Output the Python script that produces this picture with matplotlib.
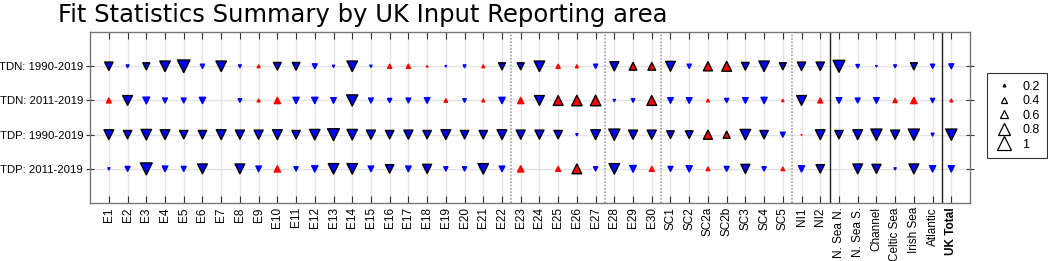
import numpy as np
import matplotlib
matplotlib.use("Agg")
import matplotlib.pyplot as plt
from matplotlib.lines import Line2D

nan = np.nan

areas = ["E1", "E2", "E3", "E4", "E5", "E6", "E7", "E8", "E9", "E10",
         "E11", "E12", "E13", "E14", "E15", "E16", "E17", "E18", "E19", "E20",
         "E21", "E22", "E23", "E24", "E25", "E26", "E27", "E28", "E29", "E30",
         "SC1", "SC2", "SC2a", "SC2b", "SC3", "SC4", "SC5", "NI1", "NI2",
         "N. Sea N.", "N. Sea S.", "Channel", "Celtic Sea", "Irish Sea", "Atlantic",
         "UK Total"]

row_labels = ["TDN: 1990-2019", "TDN: 2011-2019", "TDP: 1990-2019", "TDP: 2011-2019"]

# signed statistic: negative -> blue down triangle, positive -> red up triangle
tdn_1990 = [-0.6, -0.2, -0.5, -0.75, -0.9, -0.3, -0.75, -0.2, 0.2, -0.55,
            -0.55, -0.35, -0.15, -0.75, -0.15, 0.3, 0.3, 0.1, -0.1, -0.2,
            0.2, -0.5, -0.5, -0.75, 0.3, 0.2, -0.3, -0.65, 0.55, 0.55,
            -0.7, -0.3, 0.65, 0.7, -0.55, -0.75, -0.5, -0.6, -0.6,
            -0.85, -0.25, -0.1, -0.2, -0.5, -0.3, -0.35]
tdn_2011 = [0.35, -0.7, -0.48, -0.35, -0.35, -0.45, nan, -0.25, 0.2, 0.45,
            -0.45, -0.45, -0.4, -0.8, -0.35, -0.3, -0.35, -0.4, 0.25, -0.25,
            0.2, -0.45, 0.45, -0.7, 0.7, 0.75, 0.75, -0.15, -0.25, 0.7,
            -0.4, -0.4, 0.2, -0.3, -0.4, -0.45, 0.15, -0.7, 0.35,
            -0.4, -0.35, -0.4, 0.3, 0.45, -0.3, 0.2]
tdp_1990 = [-0.7, -0.6, -0.75, -0.7, -0.6, -0.6, -0.7, -0.65, -0.65, -0.7,
            -0.6, -0.75, -0.85, -0.75, -0.65, -0.6, -0.65, -0.6, -0.7, -0.6,
            -0.6, -0.7, -0.65, -0.65, -0.6, -0.15, -0.7, -0.8, -0.65, -0.65,
            -0.55, -0.55, 0.65, 0.5, -0.75, -0.6, -0.35, 0.05, -0.7,
            -0.6, -0.7, -0.8, -0.65, -0.8, -0.2, -0.8]
tdp_2011 = [-0.15, -0.35, -0.85, -0.4, -0.35, -0.7, nan, -0.7, -0.4, 0.45,
            -0.3, -0.45, -0.75, -0.75, -0.4, -0.6, -0.4, -0.65, -0.3, -0.3,
            -0.75, -0.4, 0.45, nan, 0.35, 0.7, -0.3, -0.75, -0.48, 0.35,
            -0.35, -0.45, 0.25, -0.35, -0.65, -0.3, 0.25, -0.45, -0.6,
            nan, -0.7, -0.65, -0.15, -0.7, -0.45, -0.45]

rows = [tdn_1990, tdn_2011, tdp_1990, tdp_2011]
legend_vals = [0.2, 0.4, 0.6, 0.8, 1]

plt.rcParams['font.family'] = ['Liberation Sans', 'DejaVu Sans']

fig = plt.figure(figsize=(10.48, 2.61), dpi=100)
ax = fig.add_axes([0.086, 0.222, 0.8396, 0.655])

x = np.arange(1, len(areas) + 1)
ms_per_unit = 14 * 72 / 100  # marker width in points for a value of 1

for r, vals in enumerate(rows):
    v = np.array(vals, dtype=float)
    y = np.full(len(v), r + 1)
    for mask, mk, col in [(v < 0, 'v', (0, 0, 1)), (v > 0, '^', (1, 0, 0))]:
        sizes = (np.abs(v[mask]) * ms_per_unit) ** 2
        edges = ['black' if abs(a) >= 0.5 else col for a in v[mask]]
        ax.scatter(x[mask], y[mask], s=sizes, marker=mk, c=[col],
                   edgecolors=edges, linewidths=1.0, zorder=3)

# group separators
for sx in [22.5, 27.5, 30.5, 37.5]:
    ax.axvline(sx, color='#a0a0a0', lw=1.2, ls=(0, (1, 1)), zorder=2)
for sx in [39.5, 45.5]:
    ax.axvline(sx, color='#222222', lw=1.0, zorder=2)

ax.set_xlim(0, len(areas) + 1)
ax.set_ylim(5, 0)
ax.set_xticks(x)
ax.set_xticklabels(areas, rotation=90, fontsize=8.5)
ax.get_xticklabels()[-1].set_fontweight('bold')
ax.set_yticks([1, 2, 3, 4])
ax.set_yticklabels(row_labels, fontsize=8.2)
ax.grid(True, color='#e3e3e3', lw=1.0, zorder=0)
ax.set_axisbelow(True)
ax.tick_params(axis='x', direction='in', length=5, top=True, color='#333333', pad=3)
ax.tick_params(axis='y', direction='inout', length=6, right=True, color='#333333', pad=2)
for sp in ax.spines.values():
    sp.set_color('#777777')
    sp.set_linewidth(1.0)

fig.text(0.055, 0.99, "Fit Statistics Summary by UK Input Reporting area",
         fontsize=17.5, family='DejaVu Sans', va='top', ha='left')

handles = [Line2D([], [], ls='none', marker='^', markersize=v * ms_per_unit,
                  markerfacecolor='white', markeredgecolor='black', markeredgewidth=0.9)
           for v in legend_vals]
leg = fig.legend(handles, [f"{v:g}" for v in legend_vals], loc='upper left',
                 bbox_to_anchor=(981 / 1048, 1 - 67 / 261), fontsize=9,
                 frameon=True, fancybox=False, borderpad=0.6, labelspacing=0.2,
                 handlelength=1.4, handletextpad=0.8)
leg.get_frame().set_edgecolor('black')
leg.get_frame().set_linewidth(0.8)

fig.savefig("out.png", dpi=100)
